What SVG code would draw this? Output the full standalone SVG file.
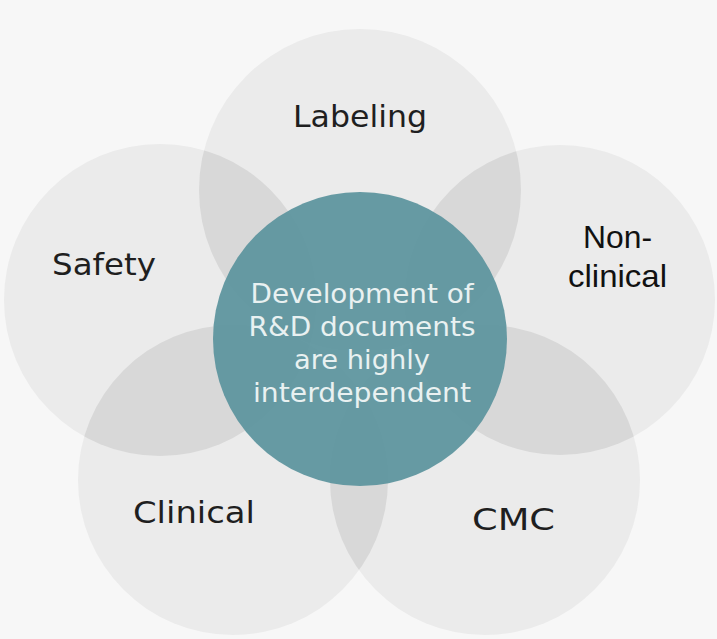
<svg xmlns="http://www.w3.org/2000/svg" width="717" height="639" viewBox="0 0 717 639">
  <style>
    .petal { fill: #ebebeb; }
    .lens { fill: #d8d8d8; }
    .lbl { font-family: "DejaVu Sans", "Open Sans", sans-serif; font-size: 30px; fill: #1f1f1f; text-anchor: middle; }
    .lbl2 { font-family: "Liberation Sans", Arial, sans-serif; font-size: 32px; fill: #111111; text-anchor: middle; }
    .core { fill: #5b939d; opacity: 0.93; }
    .coretxt { font-family: "DejaVu Sans", "Open Sans", sans-serif; font-size: 26px; fill: #e9f1f1; text-anchor: middle; }
  </style>
  <defs>
    <clipPath id="cLab"><circle cx="360" cy="190" r="161"/></clipPath>
    <clipPath id="cSaf"><circle cx="160" cy="300" r="156"/></clipPath>
    <clipPath id="cNon"><circle cx="560" cy="300" r="155"/></clipPath>
    <clipPath id="cCli"><circle cx="233" cy="480" r="155"/></clipPath>
    <clipPath id="cCmc"><circle cx="485" cy="480" r="155"/></clipPath>
  </defs>
  <rect x="0" y="0" width="717" height="639" fill="#f7f7f7"/>

  <g id="labeling"><circle class="petal" cx="360" cy="190" r="161"/></g>
  <g id="safety"><circle class="petal" cx="160" cy="300" r="156"/></g>
  <g id="nonclinical"><circle class="petal" cx="560" cy="300" r="155"/></g>
  <g id="clinical"><circle class="petal" cx="233" cy="480" r="155"/></g>
  <g id="cmc"><circle class="petal" cx="485" cy="480" r="155"/></g>

  <g id="overlaps">
    <g clip-path="url(#cLab)"><circle class="lens" cx="160" cy="300" r="156"/></g>
    <g clip-path="url(#cLab)"><circle class="lens" cx="560" cy="300" r="155"/></g>
    <g clip-path="url(#cSaf)"><circle class="lens" cx="233" cy="480" r="155"/></g>
    <g clip-path="url(#cNon)"><circle class="lens" cx="485" cy="480" r="155"/></g>
    <g clip-path="url(#cCli)"><circle class="lens" cx="485" cy="480" r="155"/></g>
  </g>

  <g id="center">
    <circle class="core" cx="360" cy="339" r="147"/>
    <text class="coretxt" x="362" y="303" textLength="223" lengthAdjust="spacingAndGlyphs">Development of</text>
    <text class="coretxt" x="362" y="336" textLength="227" lengthAdjust="spacingAndGlyphs">R&amp;D documents</text>
    <text class="coretxt" x="362" y="369" textLength="136" lengthAdjust="spacingAndGlyphs">are highly</text>
    <text class="coretxt" x="362" y="402" textLength="218" lengthAdjust="spacingAndGlyphs">interdependent</text>
  </g>

  <g id="labels">
    <text class="lbl" x="360" y="127" textLength="134" lengthAdjust="spacingAndGlyphs">Labeling</text>
    <text class="lbl" x="104" y="275" textLength="104" lengthAdjust="spacingAndGlyphs">Safety</text>
    <text class="lbl2" x="617.5" y="248" textLength="69" lengthAdjust="spacingAndGlyphs">Non-</text>
    <text class="lbl2" x="617.5" y="287" textLength="99" lengthAdjust="spacingAndGlyphs">clinical</text>
    <text class="lbl" x="194" y="523" textLength="122" lengthAdjust="spacingAndGlyphs">Clinical</text>
    <text class="lbl" x="513.5" y="530" textLength="83" lengthAdjust="spacingAndGlyphs">CMC</text>
  </g>
</svg>
